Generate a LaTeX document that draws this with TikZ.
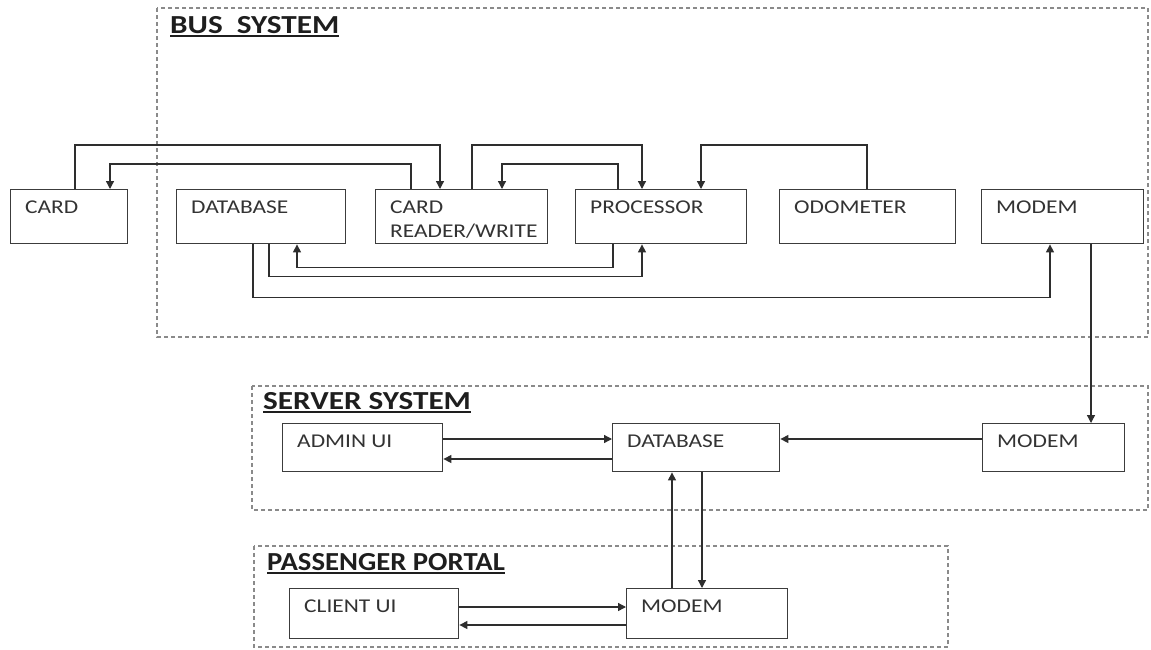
\documentclass[tikz,border=0pt]{standalone}
\usepackage{fontspec}
\setmainfont{Carlito}[FakeStretch=1.2]
\usetikzlibrary{arrows.meta,calc}
\definecolor{boxc}{HTML}{3C3C3C}
\definecolor{linec}{HTML}{2E2E2E}
\definecolor{framec}{HTML}{8A8A8A}
\definecolor{lblc}{HTML}{333333}
\definecolor{titc}{HTML}{1E1E1E}
\tikzset{
  box/.style={draw=boxc,line width=1.4pt,inner sep=0pt,fill=white},
  lbl/.style={anchor=base west,inner sep=0pt,xshift=15pt,yshift=-24pt,align=left,text=lblc,font=\fontsize{19.5}{24}\selectfont},
  lbltwo/.style={lbl,yshift=-24pt},
  arr/.style={draw=linec,line width=1.3pt,-{Triangle[length=8pt,width=8pt]}},
  frame/.style={draw=framec,line width=1.3pt,dash pattern=on 4pt off 3pt},
  title/.style={anchor=base west,inner sep=0pt,text=titc,font=\fontsize{26}{30}\selectfont\bfseries},
  uline/.style={draw=titc,line width=1.8pt}
}
\newcommand\bx[7][lbl]{\node[box,minimum width=#5pt,minimum height=#6pt,anchor=north west,label={[#1]north west:#7}] (#2) at (#3,#4) {};}
\begin{document}
\begin{tikzpicture}[x=1pt,y=-1pt]
\useasboundingbox (0,0) rectangle (1151,649);
% frames
\draw[frame] (157,8) rectangle (1148,337);
\draw[frame] (252,386) rectangle (1148,510);
\draw[frame] (254,546) rectangle (948,647);
% titles
\node[title] (t1) at (170,33) {BUS\ \ SYSTEM};
\draw[uline] ([yshift=-3pt]t1.base west) -- ([yshift=-3pt]t1.base east);
\node[title] (t2) at (263,409) {SERVER SYSTEM};
\draw[uline] ([yshift=-3pt]t2.base west) -- ([yshift=-3pt]t2.base east);
\node[title] (t3) at (267,570) {\scalebox{0.92}[1]{PASSENGER PORTAL}};
\draw[uline] ([yshift=-3pt]t3.base west) -- ([yshift=-3pt]t3.base east);
% bus boxes
\bx{card}{10}{189}{117}{54}{CARD}
\bx{bdb}{176}{189}{169}{54}{DATABASE}
\bx[lbltwo]{crw}{375}{189}{172}{54}{CARD\\READER/WRITE}
\bx{proc}{575}{189}{171}{54}{PROCESSOR}
\bx{odo}{779}{189}{176}{54}{ODOMETER}
\bx{bmodem}{981}{189}{162}{54}{MODEM}
% server boxes
\bx{admin}{282}{423}{160}{48}{ADMIN UI}
\bx{sdb}{612}{423}{167}{48}{DATABASE}
\bx{smodem}{982}{423}{142}{48}{MODEM}
% portal boxes
\bx{client}{289}{588}{169}{50}{CLIENT UI}
\bx{pmodem}{626}{588}{161}{50}{MODEM}
% bus connectors
\draw[arr] ([xshift=65pt]card.north west) -- ++(0,-44) -| ([xshift=65pt]crw.north west);
\draw[arr] ([xshift=36pt]crw.north west) -- ++(0,-25) -| ([xshift=100pt]card.north west);
\draw[arr] ([xshift=97pt]crw.north west) -- ++(0,-44) -| ([xshift=67pt]proc.north west);
\draw[arr] ([xshift=43pt]proc.north west) -- ++(0,-25) -| ([xshift=127pt]crw.north west);
\draw[arr] ([xshift=88pt]odo.north west) -- ++(0,-44) -| ([xshift=126pt]proc.north west);
\draw[arr] ([xshift=38pt]proc.south west) -- ++(0,23) -| ([xshift=121pt]bdb.south west);
\draw[arr] ([xshift=93pt]bdb.south west) -- ++(0,32) -| ([xshift=67pt]proc.south west);
\draw[arr] ([xshift=77pt]bdb.south west) -- ++(0,53) -| ([xshift=69pt]bmodem.south west);
% bus modem to server modem
\coordinate (m1) at ([xshift=110pt]bmodem.south west);
\draw[arr] (m1) -- (m1 |- smodem.north);
% server connectors
\coordinate (a1) at ([yshift=-16pt]admin.north east);
\draw[arr] (a1) -- (a1 -| sdb.west);
\coordinate (a2) at ([yshift=-36pt]sdb.north west);
\draw[arr] (a2) -- (a2 -| admin.east);
\coordinate (a3) at ([yshift=-16pt]smodem.north west);
\draw[arr] (a3) -- (a3 -| sdb.east);
% server <-> portal
\coordinate (v1) at ([xshift=46pt]pmodem.north west);
\draw[arr] (v1) -- (v1 |- sdb.south);
\coordinate (v2) at ([xshift=90pt]sdb.south west);
\draw[arr] (v2) -- (v2 |- pmodem.north);
% portal connectors
\coordinate (c1) at ([yshift=-19pt]client.north east);
\draw[arr] (c1) -- (c1 -| pmodem.west);
\coordinate (c2) at ([yshift=-37pt]pmodem.north west);
\draw[arr] (c2) -- (c2 -| client.east);
\end{tikzpicture}
\end{document}
